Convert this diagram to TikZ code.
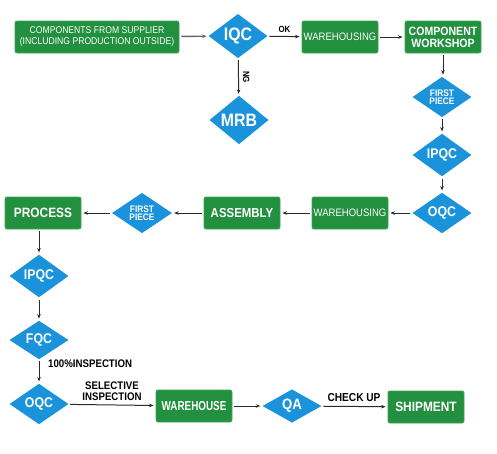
\documentclass[tikz,border=0pt]{standalone}
\usepackage{fontspec}
\setmainfont{Liberation Sans}
\newfontfamily\cf[FakeStretch=0.88]{Liberation Sans}
\newfontfamily\cnn[FakeStretch=0.76]{Liberation Sans}
\usetikzlibrary{shapes.geometric,arrows.meta}
\definecolor{boxgreen}{HTML}{22903E}
\definecolor{boxedge}{HTML}{3DA555}
\definecolor{diablue}{HTML}{1B93DB}
\definecolor{arr}{HTML}{2A2A2A}
\tikzset{
  gbox/.style={rectangle, rounded corners=2pt, fill=boxgreen, draw=boxedge, line width=0.8pt,
    minimum width=76pt, minimum height=32pt, inner sep=1pt, text=white, align=center},
  bdia/.style={diamond, fill=diablue, inner sep=0pt, minimum width=59pt, minimum height=32pt,
    text=white, align=center},
  conn/.style={draw=arr, line width=1pt, -{Stealth[length=4.5pt,width=3.5pt]}, shorten >=2pt, shorten <=2pt},
  lbl/.style={text=black, inner sep=0pt, align=center}
}
\begin{document}
\begin{tikzpicture}[x=1pt,y=-1pt]
\useasboundingbox (0,0) rectangle (497,453);
\fill[white] (0,0) rectangle (497,453);
% nodes
\node[gbox, minimum width=164pt, font=\cf\fontsize{9.8}{11}\selectfont] (sup) at (97,37) {COMPONENTS FROM SUPPLIER\\(INCLUDING PRODUCTION OUTSIDE)};
\node[bdia, font=\cf\bfseries\fontsize{18}{18}\selectfont] (iqc) at (238,36) {IQC};
\node[bdia, font=\cf\bfseries\fontsize{18}{18}\selectfont] (mrb) at (239,120) {MRB};
\node[gbox, font=\cf\fontsize{10.8}{12}\selectfont] (wh1) at (340,37) {WAREHOUSING};
\node[gbox, font=\cf\bfseries\fontsize{12}{12}\selectfont] (cw) at (443,37) {COMPONENT\\WORKSHOP};
\node[bdia, font=\cf\bfseries\fontsize{9.5}{8.5}\selectfont] (fp1) at (442,97) {FIRST\\PIECE};
\node[bdia, font=\cf\bfseries\fontsize{14}{14}\selectfont] (ipqc1) at (442,155) {IPQC};
\node[bdia, font=\cf\bfseries\fontsize{14}{14}\selectfont] (oqc1) at (442,213) {OQC};
\node[gbox, font=\cf\fontsize{10.8}{12}\selectfont] (wh2) at (350,213) {WAREHOUSING};
\node[gbox, font=\cf\bfseries\fontsize{13}{13}\selectfont] (asm) at (242,213) {ASSEMBLY};
\node[bdia, minimum width=60pt, minimum height=34pt, font=\cf\bfseries\fontsize{9.5}{8.5}\selectfont] (fp2) at (142,213) {FIRST\\PIECE};
\node[gbox, font=\cf\bfseries\fontsize{13.5}{13.5}\selectfont] (proc) at (43,213) {PROCESS};
\node[bdia, font=\cf\bfseries\fontsize{14}{14}\selectfont] (ipqc2) at (39,276) {IPQC};
\node[bdia, font=\cf\bfseries\fontsize{14}{14}\selectfont] (fqc) at (39,340) {FQC};
\node[bdia, font=\cf\bfseries\fontsize{14}{14}\selectfont] (oqc2) at (39,404) {OQC};
\node[gbox, font=\cnn\bfseries\fontsize{13}{13}\selectfont] (whs) at (194,406) {WAREHOUSE};
\node[bdia, minimum height=33pt, font=\cf\bfseries\fontsize{15}{15}\selectfont] (qa) at (292,406) {QA};
\node[gbox, font=\cf\bfseries\fontsize{13.5}{13.5}\selectfont] (ship) at (426,407) {SHIPMENT};
% connectors
\draw[conn, draw=black!60, line width=1.4pt] (sup) -- (iqc);
\draw[conn] (iqc) -- node[lbl, above=3pt, font=\cf\bfseries\fontsize{9}{9}\selectfont] (ok) {OK} (wh1);
\draw[conn] (iqc) -- node[lbl, right=4pt, rotate=-90, anchor=south, font=\cf\bfseries\fontsize{9}{9}\selectfont] (ng) {NG} (mrb);
\draw[conn] (wh1) -- (cw);
\draw[conn] (cw) -- (cw.south |- fp1.north);
\draw[conn] (fp1) -- (ipqc1);
\draw[conn] (ipqc1) -- (oqc1);
\draw[conn] (oqc1) -- (wh2);
\draw[conn] (wh2) -- (asm);
\draw[conn] (asm) -- (fp2);
\draw[conn] (fp2) -- (proc);
\draw[conn] (proc.south -| ipqc2.north) -- (ipqc2);
\draw[conn] (ipqc2) -- (fqc);
\draw[conn] (fqc) -- (oqc2);
\draw[conn] (oqc2) -- (whs);
\draw[conn] (whs) -- (qa);
\draw[conn] (qa) -- (ship);
% labels
\node[lbl, anchor=west, font=\cf\bfseries\fontsize{11}{11}\selectfont] (insp) at (48,364) {100\%INSPECTION};
\node[lbl, font=\cf\bfseries\fontsize{11}{10.5}\selectfont] (sel) at (112,391) {SELECTIVE\\INSPECTION};
\node[lbl, font=\cf\bfseries\fontsize{11.5}{11.5}\selectfont] (chk) at (354,398) {CHECK UP};
\end{tikzpicture}
\end{document}
